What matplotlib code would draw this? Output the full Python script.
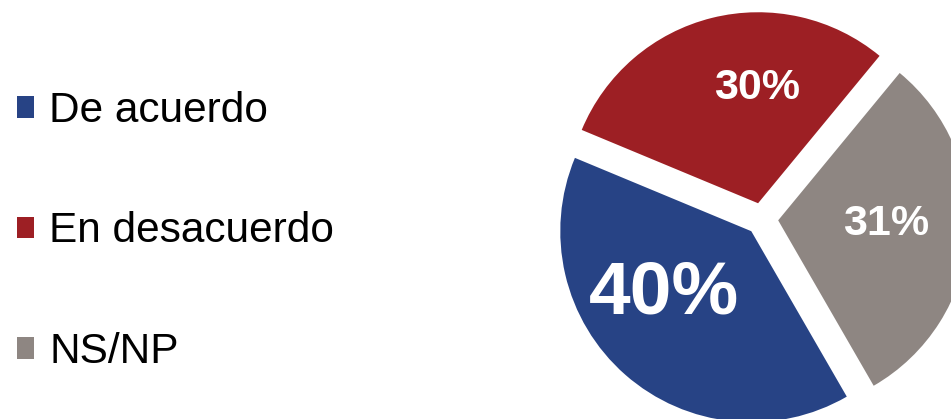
import matplotlib
matplotlib.use("Agg")
import matplotlib.pyplot as plt
import math

plt.rcParams['font.family'] = ['Liberation Sans', 'DejaVu Sans']

# données du graphique
categorias = ['De acuerdo', 'En desacuerdo', 'NS/NP']
valores = [40, 30, 31]
etiquetas = ['40%', '30%', '31%']
colores = ['#274385', '#9D1F24', '#8E8682']

W, H = 951, 419
cx, cy, r = 762, 219, 191   # centre et rayon en pixels

fig = plt.figure(figsize=(W / 100, H / 100), dpi=100)
ax = fig.add_axes([0, 0, 1, 1])

wedges, texts = ax.pie(valores, colors=colores, startangle=-60, counterclock=False,
                       explode=[0.085] * 3, radius=1.0,
                       wedgeprops=dict(linewidth=0))

# étiquettes de pourcentage (décalage angulaire par rapport au milieu de la part)
decalage = [-14, -12, 4.5]
dist = [0.625, 0.71, 0.65]
tailles = [54, 31, 31]
for w, lab, da, d, fs in zip(wedges, etiquetas, decalage, dist, tailles):
    ang = math.radians((w.theta1 + w.theta2) / 2 + da)
    ax.text(d * math.cos(ang), d * math.sin(ang), lab, ha='center', va='center_baseline',
            color='white', fontsize=fs, fontweight='bold')

ax.set_xlim(-cx / r, (W - cx) / r)
ax.set_ylim(-(H - cy) / r, cy / r)
ax.set_aspect('auto')
ax.axis('off')

leg = fig.legend(wedges, categorias, loc='upper left', bbox_to_anchor=(17 / W, 1 - 91 / H),
                 frameon=False, fontsize=30.5, handlelength=0.4, handleheight=0.4,
                 handletextpad=0.36, labelspacing=1.9, borderpad=0, borderaxespad=0)

fig.savefig('out.png', dpi=100)
